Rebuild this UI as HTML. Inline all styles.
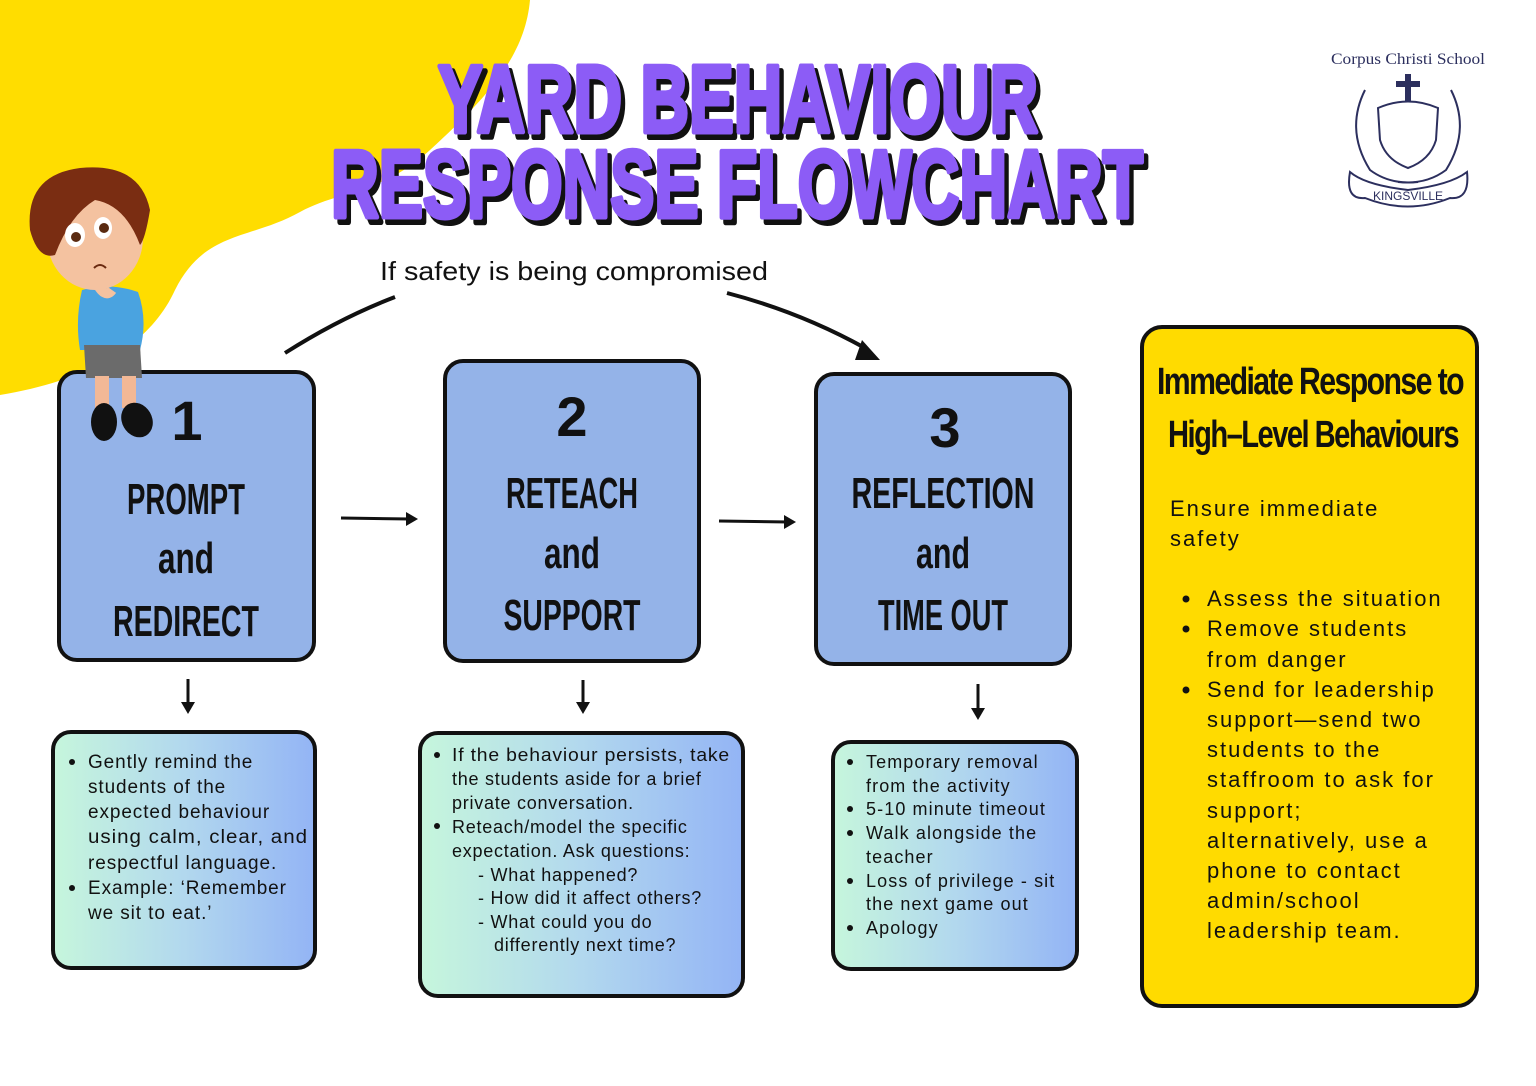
<!DOCTYPE html>
<html><head><meta charset="utf-8"><style>
html,body{margin:0;padding:0;background:#fff;}
svg{display:block;}
.h{font-family:"Liberation Sans",sans-serif;font-weight:bold;}
.b{font-family:"Liberation Sans",sans-serif;fill:#111;}
</style></head><body>
<svg width="1536" height="1086" viewBox="0 0 1536 1086" xmlns="http://www.w3.org/2000/svg">
<defs>
<linearGradient id="g" x1="0" x2="1" y1="0" y2="0"><stop offset="0" stop-color="#c6f6dc"/><stop offset="0.5" stop-color="#b2d8ee"/><stop offset="1" stop-color="#93b4f5"/></linearGradient>
</defs>
<rect width="1536" height="1086" fill="#fff"/>
<path d="M0,0 H530 C525,55 490,95 430,150 C380,195 340,190 300,212 C250,240 205,230 175,290 C150,345 90,380 0,395 Z" fill="#ffdd00"/>

<!-- title -->
<g class="h" font-size="96">
<text x="442" y="137" textLength="600" lengthAdjust="spacingAndGlyphs" fill="#111" stroke="#111" stroke-width="6" stroke-linejoin="round">YARD BEHAVIOUR</text>
<text x="438" y="132" textLength="600" lengthAdjust="spacingAndGlyphs" fill="#8c5cf6" stroke="#8c5cf6" stroke-width="5" stroke-linejoin="round">YARD BEHAVIOUR</text>
<text x="335" y="222" textLength="812" lengthAdjust="spacingAndGlyphs" fill="#111" stroke="#111" stroke-width="6" stroke-linejoin="round">RESPONSE FLOWCHART</text>
<text x="331" y="217" textLength="812" lengthAdjust="spacingAndGlyphs" fill="#8c5cf6" stroke="#8c5cf6" stroke-width="5" stroke-linejoin="round">RESPONSE FLOWCHART</text>
</g>

<!-- logo -->
<text x="1331" y="64" font-family="Liberation Serif,serif" font-size="16" fill="#2c2f5e" textLength="154" lengthAdjust="spacingAndGlyphs">Corpus Christi School</text>
<g fill="none" stroke="#2c2f5e" stroke-width="2">
<path d="M1378,108 Q1408,95 1438,108 L1436,140 Q1430,160 1408,168 Q1386,160 1380,140 Z"/>
<path d="M1365,90 Q1345,130 1370,170 Q1390,185 1418,182"/>
<path d="M1451,90 Q1471,130 1446,170 Q1426,185 1398,182"/>
<path d="M1350,172 Q1345,200 1365,198 Q1408,215 1450,198 Q1470,200 1467,172 Q1450,185 1408,190 Q1365,185 1350,172 Z"/>
</g>
<rect x="1405" y="74" width="6" height="28" fill="#2c2f5e"/><rect x="1396" y="81" width="24" height="6" fill="#2c2f5e"/>
<text x="1408" y="200" text-anchor="middle" font-family="Liberation Sans,sans-serif" font-size="12" fill="#2c2f5e">KINGSVILLE</text>

<!-- caption + curve -->
<text x="380" y="280" font-family="Liberation Sans,sans-serif" font-size="26" fill="#111" textLength="388" lengthAdjust="spacingAndGlyphs">If safety is being compromised</text>
<path d="M285,353 Q340,318 395,297" fill="none" stroke="#111" stroke-width="4"/>
<path d="M727,293 Q800,312 865,348" fill="none" stroke="#111" stroke-width="4"/>
<path d="M862,340 L880,360 L855,360 Z" fill="#111"/>

<g stroke="#111" stroke-width="4" fill="#94b3e8">
<rect x="59" y="372" width="255" height="288" rx="18"/>
<rect x="445" y="361" width="254" height="300" rx="18"/>
<rect x="816" y="374" width="254" height="290" rx="18"/>
</g>
<g class="h" fill="#111" text-anchor="middle">
<text x="187" y="440" font-size="56">1</text>
<text x="186" y="514" font-size="44" textLength="118" lengthAdjust="spacingAndGlyphs">PROMPT</text>
<text x="186" y="573" font-size="44" textLength="56" lengthAdjust="spacingAndGlyphs">and</text>
<text x="186" y="636" font-size="44" textLength="146" lengthAdjust="spacingAndGlyphs">REDIRECT</text>
<text x="572" y="436" font-size="56">2</text>
<text x="572" y="508" font-size="44" textLength="132" lengthAdjust="spacingAndGlyphs">RETEACH</text>
<text x="572" y="568" font-size="44" textLength="56" lengthAdjust="spacingAndGlyphs">and</text>
<text x="572" y="630" font-size="44" textLength="137" lengthAdjust="spacingAndGlyphs">SUPPORT</text>
<text x="945" y="447" font-size="56">3</text>
<text x="943" y="508" font-size="44" textLength="183" lengthAdjust="spacingAndGlyphs">REFLECTION</text>
<text x="943" y="568" font-size="44" textLength="54" lengthAdjust="spacingAndGlyphs">and</text>
<text x="943" y="630" font-size="44" textLength="130" lengthAdjust="spacingAndGlyphs">TIME OUT</text>
</g>

<g stroke="#111" stroke-width="3" fill="none">
<line x1="341" y1="518" x2="410" y2="519"/>
<line x1="719" y1="521" x2="788" y2="522"/>
<line x1="188" y1="679" x2="188" y2="706"/>
<line x1="583" y1="680" x2="583" y2="706"/>
<line x1="978" y1="684" x2="978" y2="712"/>
</g>
<g fill="#111">
<path d="M418,519 L406,512 L406,526 Z"/>
<path d="M796,522 L784,515 L784,529 Z"/>
<path d="M188,714 L181,702 L195,702 Z"/>
<path d="M583,714 L576,702 L590,702 Z"/>
<path d="M978,720 L971,708 L985,708 Z"/>
</g>

<g stroke="#111" stroke-width="4" fill="url(#g)">
<rect x="53" y="732" width="262" height="236" rx="18"/>
<rect x="420" y="733" width="323" height="263" rx="18"/>
<rect x="833" y="742" width="244" height="227" rx="18"/>
</g>
<g class="b" font-size="19" letter-spacing="0.9">
<circle cx="72" cy="762" r="3" fill="#111"/><circle cx="72" cy="888" r="3" fill="#111"/>
<text x="88" y="768">Gently remind the</text>
<text x="88" y="793">students of the</text>
<text x="88" y="818">expected behaviour</text>
<text x="88" y="843" textLength="220" lengthAdjust="spacingAndGlyphs">using calm, clear, and</text>
<text x="88" y="869">respectful language.</text>
<text x="88" y="894">Example: ‘Remember</text>
<text x="88" y="919">we sit to eat.’</text>
</g>
<g class="b" font-size="18" letter-spacing="0.75">
<circle cx="437" cy="755" r="3" fill="#111"/><circle cx="437" cy="826" r="3" fill="#111"/>
<text x="452" y="761" textLength="278" lengthAdjust="spacingAndGlyphs">If the behaviour persists, take</text>
<text x="452" y="785">the students aside for a brief</text>
<text x="452" y="809">private conversation.</text>
<text x="452" y="833">Reteach/model the specific</text>
<text x="452" y="857">expectation. Ask questions:</text>
<text x="478" y="881">- What happened?</text>
<text x="478" y="904">- How did it affect others?</text>
<text x="478" y="928">- What could you do</text>
<text x="494" y="951">differently next time?</text>
</g>
<g class="b" font-size="18" letter-spacing="1.1">
<circle cx="850" cy="762" r="3" fill="#111"/><circle cx="850" cy="809" r="3" fill="#111"/><circle cx="850" cy="833" r="3" fill="#111"/><circle cx="850" cy="881" r="3" fill="#111"/><circle cx="850" cy="928" r="3" fill="#111"/>
<text x="866" y="768">Temporary removal</text>
<text x="866" y="792">from the activity</text>
<text x="866" y="815">5-10 minute timeout</text>
<text x="866" y="839">Walk alongside the</text>
<text x="866" y="863">teacher</text>
<text x="866" y="887">Loss of privilege - sit</text>
<text x="866" y="910">the next game out</text>
<text x="866" y="934">Apology</text>
</g>

<rect x="1142" y="327" width="335" height="679" rx="20" fill="#ffdb00" stroke="#111" stroke-width="4"/>
<g class="h" fill="#111" font-size="38" letter-spacing="-2">
<text x="1157" y="394" textLength="306" lengthAdjust="spacingAndGlyphs">Immediate Response to</text>
<text x="1168" y="447" textLength="290" lengthAdjust="spacingAndGlyphs">High–Level Behaviours</text>
</g>
<g class="b" font-size="22" letter-spacing="2">
<text x="1170" y="516">Ensure immediate</text>
<text x="1170" y="546">safety</text>
<circle cx="1186" cy="599" r="3.5" fill="#111"/><circle cx="1186" cy="629" r="3.5" fill="#111"/><circle cx="1186" cy="690" r="3.5" fill="#111"/>
<text x="1207" y="606">Assess the situation</text>
<text x="1207" y="636">Remove students</text>
<text x="1207" y="667">from danger</text>
<text x="1207" y="697">Send for leadership</text>
<text x="1207" y="727">support—send two</text>
<text x="1207" y="757">students to the</text>
<text x="1207" y="787">staffroom to ask for</text>
<text x="1207" y="818">support;</text>
<text x="1207" y="848">alternatively, use a</text>
<text x="1207" y="878">phone to contact</text>
<text x="1207" y="908">admin/school</text>
<text x="1207" y="938">leadership team.</text>
</g>

<g>
<path d="M82,290 Q75,320 80,350 L140,350 Q148,320 138,292 Q110,282 82,290 Z" fill="#4aa3e0"/>
<path d="M84,345 L140,345 L142,378 L86,378 Z" fill="#6b6b6b"/>
<rect x="95" y="376" width="14" height="32" fill="#f2b896"/>
<rect x="122" y="376" width="14" height="32" fill="#f2b896"/>
<ellipse cx="104" cy="422" rx="13" ry="19" fill="#111"/>
<ellipse cx="137" cy="420" rx="15" ry="18" fill="#111" transform="rotate(-30 137 420)"/>
<ellipse cx="95" cy="238" rx="48" ry="52" fill="#f4c2a0"/>
<path d="M30,230 Q25,175 80,168 Q140,162 150,210 Q145,240 140,245 Q125,205 95,200 Q70,215 55,255 Q38,260 30,230 Z" fill="#7a2d12"/>
<ellipse cx="75" cy="235" rx="10" ry="12" fill="#fff"/><circle cx="76" cy="237" r="5" fill="#5a2a10"/>
<ellipse cx="103" cy="228" rx="9" ry="11" fill="#fff"/><circle cx="104" cy="228" r="5" fill="#5a2a10"/>
<path d="M94,268 Q100,262 106,268" stroke="#6a2a10" stroke-width="2" fill="none"/>
<path d="M95,280 Q105,300 112,290" stroke="#f4c2a0" stroke-width="10" fill="none"/>
</g>
</svg>
</body></html>
